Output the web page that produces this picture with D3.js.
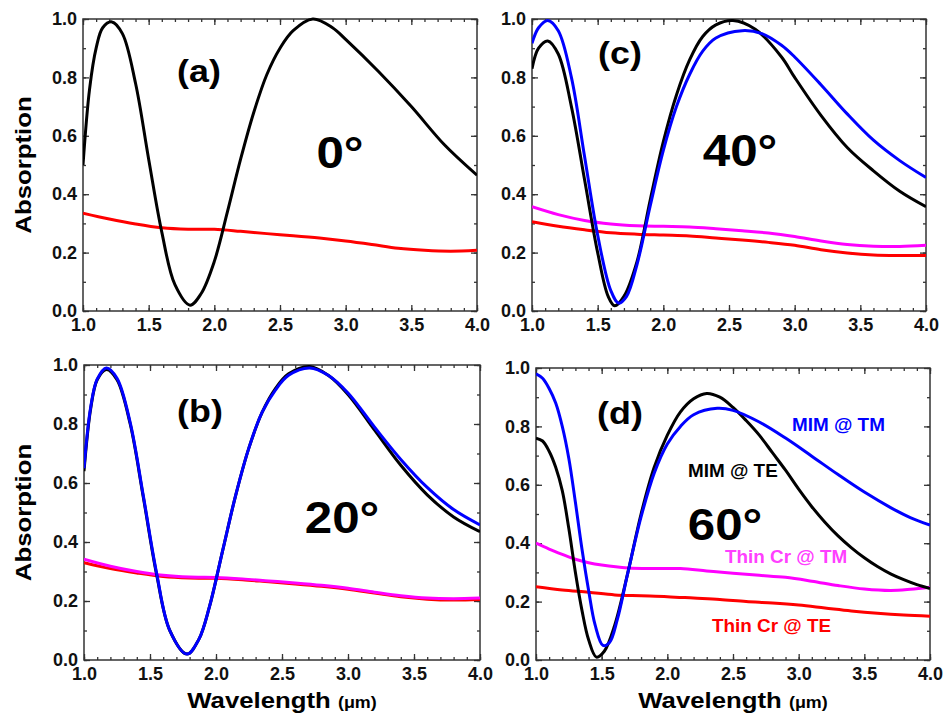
<!DOCTYPE html>
<html>
<head>
<meta charset="utf-8">
<script src="https://cdn.jsdelivr.net/npm/d3@7"></script>
<style>
  body { margin: 0; background: #fff; }
  text { font-family: "Liberation Sans", Arial, sans-serif; font-weight: bold; }
</style>
</head>
<body>
<svg id="chart" width="943" height="716"></svg>
<script>
// tick values
const xTicks = [1.0, 1.5, 2.0, 2.5, 3.0, 3.5, 4.0];
const yTicks = [0.0, 0.2, 0.4, 0.6, 0.8, 1.0];

// (a) 0 deg
const a_mimTE = [[1.0,0.50],[1.05,0.76],[1.1,0.90],[1.15,0.97],[1.22,0.99],[1.3,0.95],[1.4,0.78],[1.5,0.52],[1.6,0.27],[1.7,0.09],[1.815,0.02],[1.9,0.06],[2.0,0.17],[2.1,0.34],[2.2,0.52],[2.3,0.68],[2.4,0.81],[2.5,0.90],[2.6,0.96],[2.75,1.0],[2.9,0.97],[3.0,0.93],[3.25,0.82],[3.5,0.70],[3.75,0.57],[4.0,0.465]];
const a_crTE = [[1.0,0.335],[1.2,0.315],[1.4,0.298],[1.6,0.285],[1.8,0.28],[2.0,0.28],[2.2,0.273],[2.4,0.265],[2.6,0.258],[2.8,0.25],[3.0,0.24],[3.2,0.228],[3.4,0.215],[3.6,0.208],[3.8,0.205],[4.0,0.208]];

// (b) 20 deg
const b_mimTE = [[1.0,0.64],[1.05,0.85],[1.1,0.95],[1.17,0.985],[1.25,0.95],[1.35,0.80],[1.45,0.55],[1.55,0.29],[1.65,0.10],[1.78,0.02],[1.87,0.07],[1.95,0.18],[2.05,0.37],[2.15,0.56],[2.25,0.72],[2.35,0.84],[2.45,0.92],[2.55,0.97],[2.71,0.995],[2.85,0.965],[3.0,0.90],[3.2,0.78],[3.4,0.66],[3.6,0.56],[3.8,0.485],[4.0,0.435]];
const b_mimTM = [[1.0,0.65],[1.05,0.855],[1.1,0.952],[1.17,0.99],[1.25,0.955],[1.35,0.805],[1.45,0.555],[1.55,0.295],[1.65,0.10],[1.78,0.02],[1.87,0.07],[1.95,0.18],[2.05,0.37],[2.15,0.56],[2.25,0.72],[2.35,0.84],[2.45,0.915],[2.55,0.965],[2.71,0.99],[2.85,0.965],[3.0,0.905],[3.2,0.79],[3.4,0.68],[3.6,0.585],[3.8,0.51],[4.0,0.458]];
const b_crTE = [[1.0,0.33],[1.2,0.31],[1.4,0.295],[1.6,0.283],[1.8,0.278],[2.0,0.277],[2.2,0.272],[2.4,0.265],[2.6,0.258],[2.8,0.25],[3.0,0.24],[3.2,0.227],[3.4,0.214],[3.6,0.206],[3.8,0.203],[4.0,0.205]];
const b_crTM = [[1.0,0.342],[1.2,0.318],[1.4,0.30],[1.6,0.287],[1.8,0.281],[2.0,0.28],[2.2,0.275],[2.4,0.268],[2.6,0.261],[2.8,0.253],[3.0,0.243],[3.2,0.23],[3.4,0.218],[3.6,0.21],[3.8,0.208],[4.0,0.21]];

// (c) 40 deg
const c_mimTE = [[1.0,0.83],[1.05,0.90],[1.12,0.925],[1.2,0.88],[1.3,0.70],[1.4,0.45],[1.5,0.20],[1.58,0.05],[1.63,0.018],[1.7,0.05],[1.8,0.17],[1.9,0.38],[2.0,0.58],[2.1,0.74],[2.2,0.86],[2.3,0.94],[2.4,0.98],[2.53,0.995],[2.7,0.965],[2.9,0.87],[3.0,0.80],[3.2,0.67],[3.4,0.56],[3.6,0.48],[3.8,0.41],[4.0,0.357]];
const c_mimTM = [[1.0,0.917],[1.05,0.97],[1.12,0.995],[1.2,0.96],[1.3,0.80],[1.4,0.53],[1.5,0.26],[1.6,0.07],[1.66,0.027],[1.72,0.05],[1.8,0.16],[1.9,0.36],[2.0,0.55],[2.1,0.70],[2.2,0.81],[2.3,0.89],[2.4,0.935],[2.6,0.96],[2.75,0.95],[2.9,0.91],[3.0,0.87],[3.2,0.775],[3.4,0.675],[3.6,0.585],[3.8,0.515],[4.0,0.457]];
const c_crTE = [[1.0,0.306],[1.2,0.29],[1.4,0.278],[1.6,0.268],[1.8,0.263],[2.0,0.26],[2.2,0.257],[2.4,0.25],[2.6,0.243],[2.8,0.235],[3.0,0.225],[3.2,0.21],[3.4,0.199],[3.6,0.192],[3.8,0.19],[4.0,0.19]];
const c_crTM = [[1.0,0.357],[1.2,0.33],[1.4,0.31],[1.6,0.298],[1.8,0.292],[2.0,0.29],[2.2,0.288],[2.4,0.282],[2.6,0.275],[2.8,0.267],[3.0,0.255],[3.2,0.24],[3.4,0.228],[3.6,0.222],[3.8,0.221],[4.0,0.225]];

// (d) 60 deg
const d_mimTE = [[1.0,0.76],[1.05,0.75],[1.1,0.715],[1.15,0.66],[1.2,0.58],[1.25,0.45],[1.3,0.30],[1.35,0.17],[1.4,0.07],[1.46,0.01],[1.52,0.03],[1.6,0.12],[1.7,0.30],[1.8,0.50],[1.9,0.66],[2.0,0.77],[2.1,0.85],[2.2,0.895],[2.3,0.913],[2.4,0.90],[2.5,0.865],[2.6,0.82],[2.7,0.77],[2.8,0.71],[2.9,0.65],[3.0,0.585],[3.1,0.525],[3.2,0.472],[3.3,0.425],[3.4,0.385],[3.5,0.35],[3.6,0.32],[3.7,0.295],[3.8,0.275],[3.9,0.258],[4.0,0.245]];
const d_mimTM = [[1.0,0.98],[1.05,0.965],[1.1,0.93],[1.15,0.88],[1.2,0.80],[1.25,0.69],[1.3,0.54],[1.35,0.38],[1.4,0.24],[1.45,0.12],[1.51,0.05],[1.56,0.06],[1.62,0.14],[1.7,0.30],[1.8,0.49],[1.9,0.64],[2.0,0.74],[2.1,0.80],[2.2,0.84],[2.38,0.862],[2.5,0.855],[2.7,0.815],[2.9,0.76],[3.1,0.698],[3.3,0.635],[3.5,0.575],[3.7,0.522],[3.85,0.488],[4.0,0.462]];
const d_crTE = [[1.0,0.251],[1.2,0.24],[1.4,0.232],[1.6,0.223],[1.8,0.22],[2.0,0.217],[2.2,0.212],[2.4,0.207],[2.6,0.20],[2.8,0.195],[3.0,0.188],[3.2,0.178],[3.4,0.168],[3.6,0.16],[3.8,0.154],[4.0,0.15]];
const d_crTM = [[1.0,0.40],[1.1,0.38],[1.2,0.362],[1.3,0.345],[1.4,0.333],[1.5,0.325],[1.7,0.315],[1.9,0.313],[2.1,0.313],[2.3,0.305],[2.5,0.297],[2.7,0.29],[2.9,0.283],[3.1,0.27],[3.3,0.255],[3.5,0.243],[3.7,0.238],[3.85,0.242],[4.0,0.249]];

const RED = '#ff0000', MAG = '#ff00ff', BLK = '#000000', BLU = '#0000ff';
const FONT = '"Liberation Sans", Arial, sans-serif';
const SX = 1.12; // reference lettering runs a bit wider than Arial

const panels = [
  { x0: 83, x1: 477, y0: 19, y1: 311, tag: '(a)', tagX: 199, tagY: 82, ang: '0°', angX: 340, angY: 168, ylab: true, xlab: false,
    series: [[a_crTE, RED], [a_mimTE, BLK]] },
  { x0: 532, x1: 926, y0: 19, y1: 311, tag: '(c)', tagX: 620, tagY: 64, ang: '40°', angX: 740, angY: 166, ylab: false, xlab: false,
    series: [[c_crTE, RED], [c_crTM, MAG], [c_mimTE, BLK], [c_mimTM, BLU]] },
  { x0: 84, x1: 480, y0: 365, y1: 660, tag: '(b)', tagX: 200, tagY: 422, ang: '20°', angX: 342, angY: 533, ylab: true, xlab: true,
    series: [[b_crTE, RED], [b_crTM, MAG], [b_mimTE, BLK], [b_mimTM, BLU]] },
  { x0: 536, x1: 930, y0: 368, y1: 660, tag: '(d)', tagX: 620, tagY: 424, ang: '60°', angX: 725, angY: 540, ylab: false, xlab: true,
    series: [[d_crTE, RED], [d_crTM, MAG], [d_mimTE, BLK], [d_mimTM, BLU]] }
];

const svg = d3.select('#chart');

// text with a horizontal stretch about its anchor point
function wideText(parent, x, y, size, txt, anchor, rot) {
  return parent.append('text')
    .attr('transform', `translate(${x},${y})${rot ? ' rotate(' + rot + ')' : ''} scale(${SX},1)`)
    .attr('text-anchor', anchor || 'start').attr('font-size', size).text(txt);
}

panels.forEach(p => {
  const x = d3.scaleLinear().domain([1, 4]).range([p.x0, p.x1]);
  const y = d3.scaleLinear().domain([0, 1]).range([p.y1, p.y0]);
  const g = svg.append('g');

  const minorX = d3.range(1, 4.001, 0.1).map(v => +v.toFixed(1));
  const minorY = d3.range(0, 1.001, 0.1).map(v => +v.toFixed(1));

  const tk = (axis, tr) => {
    const a = g.append('g').attr('transform', tr).call(axis);
    a.select('.domain').remove();
    a.selectAll('line').attr('stroke', '#333').attr('stroke-width', 1.3);
    return a;
  };
  // minor ticks on all four sides, pointing in
  tk(d3.axisBottom(x).tickValues(minorX).tickSize(-3).tickFormat(''), `translate(0,${p.y1})`);
  tk(d3.axisTop(x).tickValues(minorX).tickSize(-3).tickFormat(''), `translate(0,${p.y0})`);
  tk(d3.axisLeft(y).tickValues(minorY).tickSize(-3).tickFormat(''), `translate(${p.x0},0)`);
  tk(d3.axisRight(y).tickValues(minorY).tickSize(-3).tickFormat(''), `translate(${p.x1},0)`);

  // major ticks
  const xb = tk(d3.axisBottom(x).tickValues(xTicks).tickSize(-6).tickPadding(7).tickFormat(d3.format('.1f')), `translate(0,${p.y1})`);
  tk(d3.axisTop(x).tickValues(xTicks).tickSize(-6).tickFormat(''), `translate(0,${p.y0})`);
  const yl = tk(d3.axisLeft(y).tickValues(yTicks).tickSize(-6).tickPadding(6).tickFormat(d3.format('.1f')), `translate(${p.x0},0)`);
  tk(d3.axisRight(y).tickValues(yTicks).tickSize(-6).tickFormat(''), `translate(${p.x1},0)`);
  [xb, yl].forEach(a => a.selectAll('text').attr('font-size', 18).attr('fill', '#111')
    .attr('font-family', FONT).attr('font-weight', 'bold'));

  // frame
  g.append('rect').attr('x', p.x0).attr('y', p.y0).attr('width', p.x1 - p.x0).attr('height', p.y1 - p.y0)
    .attr('fill', 'none').attr('stroke', '#333').attr('stroke-width', 1.5);

  // curves
  const clipId = 'clip' + p.tag.replace(/\W/g, '');
  g.append('clipPath').attr('id', clipId).append('rect')
    .attr('x', p.x0).attr('y', p.y0 - 3).attr('width', p.x1 - p.x0).attr('height', p.y1 - p.y0 + 6);
  const line = d3.line().x(d => x(d[0])).y(d => y(d[1])).curve(d3.curveCatmullRom.alpha(0.5));
  p.series.forEach(([data, col]) => {
    g.append('path').datum(data).attr('d', line).attr('fill', 'none')
      .attr('stroke', col).attr('stroke-width', 3).attr('clip-path', `url(#${clipId})`);
  });

  // panel tag and angle
  wideText(g, p.tagX, p.tagY, 32, p.tag, 'middle');
  wideText(g, p.angX, p.angY, 44, p.ang, 'middle');

  if (p.ylab) {
    wideText(g, 31, (p.y0 + p.y1) / 2, 23, 'Absorption', 'middle', -90);
  }
  if (p.xlab) {
    const t = g.append('text')
      .attr('transform', `translate(${(p.x0 + p.x1) / 2},708) scale(${SX},1)`)
      .attr('text-anchor', 'middle').attr('font-size', 23);
    t.append('tspan').text('Wavelength ');
    t.append('tspan').attr('font-size', 16).text('(μm)');
  }
});

// curve labels in panel (d)
const legend = [
  ['MIM @ TM', BLU, 792, 431],
  ['MIM @ TE', BLK, 688, 477],
  ['Thin Cr @ TM', '#ff40ff', 725, 563],
  ['Thin Cr @ TE', RED, 712, 632]
];
legend.forEach(([txt, col, lx, ly]) => {
  svg.append('text').attr('transform', `translate(${lx},${ly}) scale(1.05,1)`)
    .attr('font-size', 18).attr('fill', col).text(txt);
});
</script>
</body>
</html>
